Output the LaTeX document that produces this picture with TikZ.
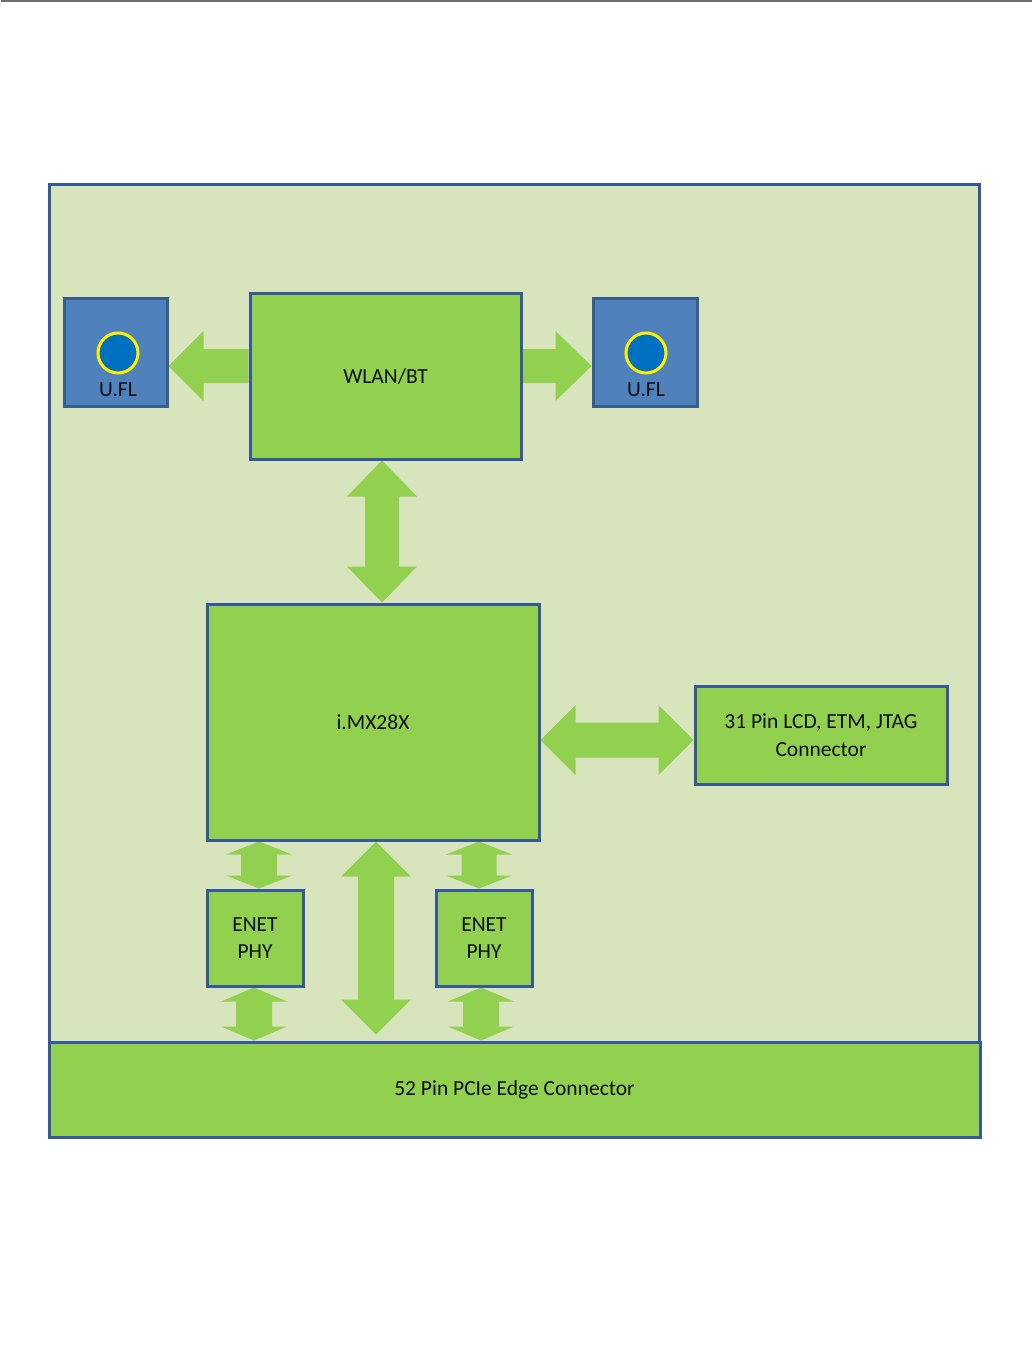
\documentclass[tikz,border=0pt]{standalone}
\usepackage{fontspec}
\setmainfont{Carlito}
\usetikzlibrary{calc}
\pgfdeclarelayer{bg}
\pgfdeclarelayer{arrows}
\pgfsetlayers{bg,arrows,main}
\definecolor{boardbg}{RGB}{216,228,188}
\definecolor{boxgreen}{RGB}{146,208,80}
\definecolor{boxblue}{RGB}{55,88,155}
\definecolor{uflfill}{RGB}{79,129,189}
\definecolor{uflline}{RGB}{56,93,138}
\definecolor{dotfill}{RGB}{0,112,192}
\definecolor{txt}{RGB}{15,15,15}
\definecolor{topline}{RGB}{110,110,110}
\tikzset{
  arrowfill/.style={fill=boxgreen},
  gbox/.style={draw=boxblue, line width=3pt, fill=boxgreen, inner sep=0pt,
    text=txt, font=\fontsize{21.5}{27.5}\selectfont, align=center},
  ublue/.style={draw=uflline, line width=3pt, fill=uflfill, inner sep=0pt,
    minimum width=103pt, minimum height=108pt},
  dot/.style={circle, draw=yellow, line width=3pt, fill=dotfill,
    minimum size=40pt, inner sep=0pt},
  lbl/.style={inner sep=0pt, text=txt, font=\fontsize{21.5}{27.5}\selectfont}
}
% single block arrow: #1 start, #2 tip, #3 shaft half width, #4 head half width, #5 head length
\newcommand\blockarrow[5]{%
  \coordinate (ba-a) at (#1);
  \coordinate (ba-b) at (#2);
  \coordinate (ba-c) at ($(ba-b)!#5!(ba-a)$);
  \fill[arrowfill] ($(ba-a)!#3!90:(ba-b)$) -- ($(ba-c)!#3!90:(ba-b)$)
    -- ($(ba-c)!#4!90:(ba-b)$) -- (ba-b) -- ($(ba-c)!#4!-90:(ba-b)$)
    -- ($(ba-c)!#3!-90:(ba-b)$) -- ($(ba-a)!#3!-90:(ba-b)$) -- cycle;
}
% double block arrow: #1 tip A, #2 tip B
\newcommand\dblarrow[5]{%
  \coordinate (da-a) at (#1);
  \coordinate (da-b) at (#2);
  \coordinate (da-c) at ($(da-b)!#5!(da-a)$);
  \coordinate (da-d) at ($(da-a)!#5!(da-b)$);
  \fill[arrowfill] (da-a) -- ($(da-d)!#4!90:(da-b)$) -- ($(da-d)!#3!90:(da-b)$)
    -- ($(da-c)!#3!90:(da-b)$) -- ($(da-c)!#4!90:(da-b)$) -- (da-b)
    -- ($(da-c)!#4!-90:(da-b)$) -- ($(da-c)!#3!-90:(da-b)$)
    -- ($(da-d)!#3!-90:(da-b)$) -- ($(da-d)!#4!-90:(da-b)$) -- cycle;
}
\begin{document}
\begin{tikzpicture}[x=1pt,y=-1pt]
\begin{pgfonlayer}{bg}
  \fill[white] (0,0) rectangle (1031,1352);
  \draw[topline, line width=2pt] (0,1) -- (1031,1);
  \node[draw=boxblue, line width=3pt, fill=boardbg, inner sep=0pt,
        minimum width=930pt, minimum height=858pt] (board) at (513,613) {};
\end{pgfonlayer}
\useasboundingbox (0,0) rectangle (1031,1352);

% boxes
\node[ublue] (uflL) at (114.5,352) {};
\node[ublue, minimum width=104pt] (uflR) at (644,352) {};
\node[dot] (dotL) at ([xshift=2.5pt,yshift=-1pt]uflL.center) {};
\node[dot] (dotR) at ([xshift=1pt,yshift=-1pt]uflR.center) {};
\node[lbl] (lblL) at ([xshift=2.5pt,yshift=-38pt]uflL.center) {U.FL};
\node[lbl] (lblR) at ([xshift=1pt,yshift=-38pt]uflR.center) {U.FL};

\node[gbox, minimum width=271pt, minimum height=166pt] (wlan) at (384.5,376) {WLAN/BT};
\node[gbox, minimum width=332pt, minimum height=236pt] (imx) at (372,722) {i.MX28X};
\node[gbox, minimum width=252pt, minimum height=98pt] (conn) at (820,735) {31 Pin LCD, ETM, JTAG\\Connector};
\node[gbox, minimum width=96pt, minimum height=96pt] (enetL) at (254,938) {ENET\\PHY};
\node[gbox, minimum width=96pt, minimum height=96pt] (enetR) at (483,938) {ENET\\PHY};
\node[gbox, minimum width=931pt, minimum height=95pt] (pcie) at (513.5,1089.5) {52 Pin PCIe Edge Connector};

% arrows
\begin{pgfonlayer}{arrows}
  \blockarrow{[yshift=10pt]wlan.west}{[yshift=-14pt]uflL.east}{17pt}{35pt}{35pt}
  \blockarrow{[yshift=10pt]wlan.east}{[yshift=-14pt]uflR.west}{17pt}{35pt}{36pt}
  \dblarrow{[xshift=-3.5pt]wlan.south}{[xshift=9pt]imx.north}{17pt}{35pt}{36pt}
  \dblarrow{[yshift=-18pt]imx.east}{[yshift=-5pt]conn.west}{17.5pt}{35pt}{35pt}
  \coordinate (e1) at ([xshift=4pt]enetL.north);
  \dblarrow{imx.south -| e1}{e1}{18pt}{33pt}{13pt}
  \coordinate (e2) at ([xshift=-1pt]enetL.south);
  \dblarrow{e2}{e2 |- pcie.north}{18pt}{33pt}{14pt}
  \coordinate (c1) at ([xshift=3pt]imx.south);
  \coordinate (c2) at ($(c1 |- pcie.north)+(0,-6)$);
  \dblarrow{c1}{c2}{18pt}{35pt}{35pt}
  \coordinate (e3) at ([xshift=-5pt]enetR.north);
  \dblarrow{imx.south -| e3}{e3}{17.5pt}{33pt}{13pt}
  \coordinate (e4) at ([xshift=-3pt]enetR.south);
  \dblarrow{e4}{e4 |- pcie.north}{18pt}{33pt}{14pt}
\end{pgfonlayer}
\end{tikzpicture}
\end{document}
